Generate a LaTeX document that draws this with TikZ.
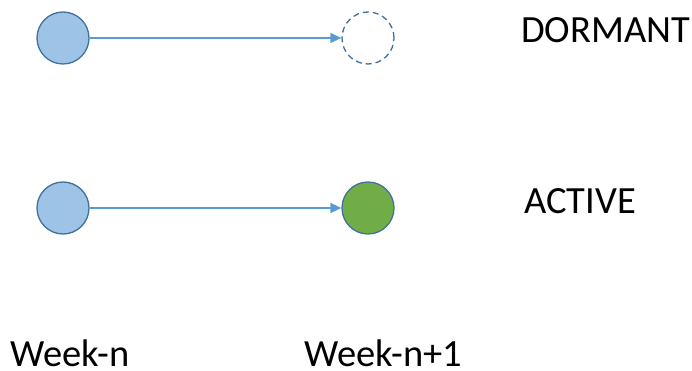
\documentclass[tikz,border=0pt]{standalone}
\usepackage{fontspec}
\setmainfont{Carlito}
\usepackage{tikz}
\usetikzlibrary{arrows.meta,positioning}
\usepackage{xcolor}
\definecolor{wkblue}{RGB}{157,195,230}
\definecolor{wkdarkblue}{RGB}{65,113,156}
\definecolor{wkarrow}{RGB}{91,155,213}
\definecolor{wkgreen}{RGB}{112,173,71}
\tikzstyle{user} = [circle, minimum size=52pt, inner sep=0pt, draw=wkdarkblue, line width=1.3pt, fill=wkblue]
\tikzstyle{link} = [line width=1.4pt, color=wkarrow, -{Triangle[length=11pt,width=10pt]}]
\tikzstyle{label} = [anchor=base west, inner sep=0pt, font=\fontsize{38.5}{42}\selectfont]

\begin{document}
\begin{tikzpicture}[x=1pt, y=-1pt]
\useasboundingbox (0,0) rectangle (692,371);
% Dormant row
\node[user] (d1) at (63,38) {};
\node[user, fill=white, dashed, dash pattern=on 6pt off 4pt] (d2) at (368,38) {};
\node[label] (dlabel) at (521,43) {DORMANT};

% Active row
\node[user] (a1) at (63,208) {};
\node[user, fill=wkgreen] (a2) at (368,208) {};
\node[label] (alabel) at (524,213) {ACTIVE};

% Linking arrows
\draw[link] (d1) -- (d2);
\draw[link] (a1) -- (a2);

% Weeks
\node[label] (w1) at (10,366) {Week-n};
\node[label] (w2) at (304,366) {Week-n+1};
\end{tikzpicture}
\end{document}
